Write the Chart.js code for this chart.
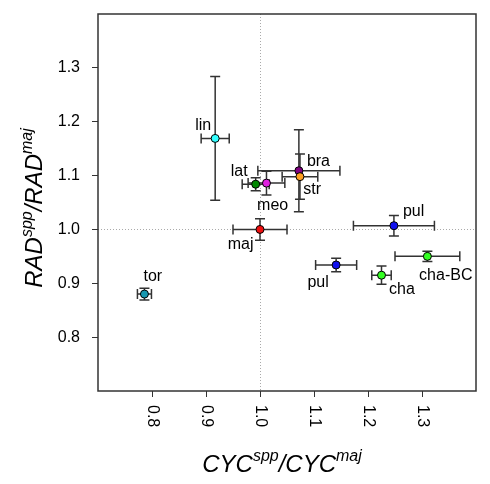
<!DOCTYPE html>
<html><head><meta charset="utf-8">
<script src="https://cdn.jsdelivr.net/npm/chart.js@4"></script>
<style>html,body{margin:0;padding:0;background:#fff}#wrap{width:490px;height:484px}</style>
</head><body><div id="wrap"><canvas id="c" width="490" height="484"></canvas></div>
<script>
const species  = ['lin','lat','meo','bra','str','maj','pul','pul','cha','cha-BC','tor'];
const cycRatio = [0.917,0.992,1.012,1.072,1.074,1.000,1.248,1.141,1.225,1.310,0.786];
const cycErr   = [0.026,0.025,0.034,0.076,0.033,0.050,0.075,0.038,0.018,0.060,0.013];
const radRatio = [1.169,1.084,1.086,1.109,1.098,1.000,1.007,0.934,0.915,0.950,0.880];
const radErr   = [0.115,0.012,0.022,0.076,0.042,0.020,0.019,0.0125,0.017,0.0095,0.011];
const xTicks = [0.8,0.9,1.0,1.1,1.2,1.3];
const yTicks = [0.8,0.9,1.0,1.1,1.2,1.3];
const pointColors = ['#33ffff','#008800','#e020e0','#800080','#ffa020','#ee1010','#1010ee','#1010ee','#33ff22','#33ff22','#1898b0'];
// label placement (dx, dy from point, left-aligned, alphabetic baseline)
const labelOffsets = [[-20,-8],[-25,-8.6],[-9.4,27],[8,-5],[3.3,17],[-32.3,20],[9,-10],[-28.7,22],[7.6,19],[-8.3,23.3],[-1,-13]];

const FONT = '"Liberation Sans", Arial, sans-serif';

function drawSup(ctx, parts, x, y) {
  let cx = x;
  for (const [txt, sup] of parts) {
    ctx.font = sup ? 'italic 16px ' + FONT : 'italic 24px ' + FONT;
    ctx.fillText(txt, cx, sup ? y - 10.5 : y);
    cx += ctx.measureText(txt).width;
  }
}
function supWidth(ctx, parts) {
  let w = 0;
  for (const [txt, sup] of parts) {
    ctx.font = sup ? 'italic 16px ' + FONT : 'italic 24px ' + FONT;
    w += ctx.measureText(txt).width;
  }
  return w;
}

const custom = {
  id: 'custom',
  beforeDatasetsDraw(chart) {
    const {ctx, chartArea: a, scales: {x, y}} = chart;
    ctx.save();
    ctx.strokeStyle = '#aaaaaa';
    ctx.lineWidth = 1;
    ctx.setLineDash([1, 2]);
    const x1 = Math.round(x.getPixelForValue(1.0)) + 0.5;
    const y1 = Math.round(y.getPixelForValue(1.0)) + 0.5;
    ctx.beginPath(); ctx.moveTo(x1, a.top); ctx.lineTo(x1, a.bottom); ctx.stroke();
    ctx.beginPath(); ctx.moveTo(a.left, y1); ctx.lineTo(a.right, y1); ctx.stroke();
    ctx.setLineDash([]);
    ctx.strokeStyle = '#333333';
    ctx.lineWidth = 1.5;
    const cap = 5;
    for (let i = 0; i < species.length; i++) {
      const px = x.getPixelForValue(cycRatio[i]);
      const py = y.getPixelForValue(radRatio[i]);
      const xl = x.getPixelForValue(cycRatio[i] - cycErr[i]);
      const xr = x.getPixelForValue(cycRatio[i] + cycErr[i]);
      const yt = y.getPixelForValue(radRatio[i] + radErr[i]);
      const yb = y.getPixelForValue(radRatio[i] - radErr[i]);
      ctx.beginPath();
      ctx.moveTo(xl, py); ctx.lineTo(xr, py);
      ctx.moveTo(xl, py - cap); ctx.lineTo(xl, py + cap);
      ctx.moveTo(xr, py - cap); ctx.lineTo(xr, py + cap);
      ctx.moveTo(px, yt); ctx.lineTo(px, yb);
      ctx.moveTo(px - cap, yt); ctx.lineTo(px + cap, yt);
      ctx.moveTo(px - cap, yb); ctx.lineTo(px + cap, yb);
      ctx.stroke();
    }
    ctx.restore();
  },
  afterDatasetsDraw(chart) {
    const {ctx, chartArea: a, scales: {x, y}} = chart;
    ctx.save();
    ctx.fillStyle = '#000';
    ctx.font = '16px ' + FONT;
    ctx.textAlign = 'left';
    ctx.textBaseline = 'alphabetic';
    for (let i = 0; i < species.length; i++) {
      const px = x.getPixelForValue(cycRatio[i]);
      const py = y.getPixelForValue(radRatio[i]);
      ctx.fillText(species[i], px + labelOffsets[i][0], py + labelOffsets[i][1]);
    }
    ctx.strokeStyle = '#333333';
    ctx.lineWidth = 1.5;
    ctx.strokeRect(a.left, a.top, a.right - a.left, a.bottom - a.top);
    ctx.font = '16px ' + FONT;
    ctx.textAlign = 'left';
    ctx.textBaseline = 'middle';
    for (const v of xTicks) {
      const tx = x.getPixelForValue(v);
      ctx.save();
      ctx.translate(tx, a.bottom + 14);
      ctx.rotate(Math.PI / 2);
      ctx.fillText(v.toFixed(1), 0, 0);
      ctx.restore();
    }
    ctx.textAlign = 'left';
    ctx.textBaseline = 'alphabetic';
    const xParts = [['CYC', false], ['spp', true], ['/CYC', false], ['maj', true]];
    const xw = supWidth(ctx, xParts);
    drawSup(ctx, xParts, (a.left + a.right) / 2 - 5 - xw / 2, 471.5);
    const yParts = [['RAD', false], ['spp', true], ['/RAD', false], ['maj', true]];
    const yw = supWidth(ctx, yParts);
    ctx.save();
    ctx.translate(42, (a.top + a.bottom) / 2 + 5.5);
    ctx.rotate(-Math.PI / 2);
    drawSup(ctx, yParts, -yw / 2, 0);
    ctx.restore();
    ctx.restore();
  }
};

function zeroPad(s) { s.paddingTop = 0; s.paddingBottom = 0; s.paddingLeft = 0; s.paddingRight = 0; }

new Chart(document.getElementById('c'), {
  type: 'scatter',
  data: {
    datasets: [{
      data: species.map((s, i) => ({x: cycRatio[i], y: radRatio[i]})),
      backgroundColor: pointColors,
      borderColor: '#000',
      borderWidth: 1,
      pointRadius: 4,
      pointHoverRadius: 4
    }]
  },
  options: {
    responsive: false,
    devicePixelRatio: 1,
    animation: false,
    events: [],
    layout: {padding: {left: 0, top: 14, right: 14, bottom: 0}},
    plugins: {legend: {display: false}, tooltip: {enabled: false}},
    scales: {
      x: {
        type: 'linear', position: 'bottom', min: 0.7, max: 1.4,
        afterBuildTicks: s => { s.ticks = xTicks.map(v => ({value: v})); },
        afterFit: s => { s.height = 93; zeroPad(s); },
        ticks: {display: false},
        grid: {display: true, drawOnChartArea: false, drawTicks: true, tickLength: 6, color: '#333', lineWidth: 1},
        border: {display: false}
      },
      y: {
        type: 'linear', position: 'left', min: 0.7, max: 1.4,
        afterBuildTicks: s => { s.ticks = yTicks.map(v => ({value: v})); },
        afterFit: s => { s.width = 98; zeroPad(s); },
        ticks: {font: {family: FONT, size: 16}, color: '#000', padding: 12, callback: v => v.toFixed(1)},
        grid: {display: true, drawOnChartArea: false, drawTicks: true, tickLength: 6, color: '#333', lineWidth: 1},
        border: {display: false}
      }
    }
  },
  plugins: [custom]
});
</script>
</body></html>
